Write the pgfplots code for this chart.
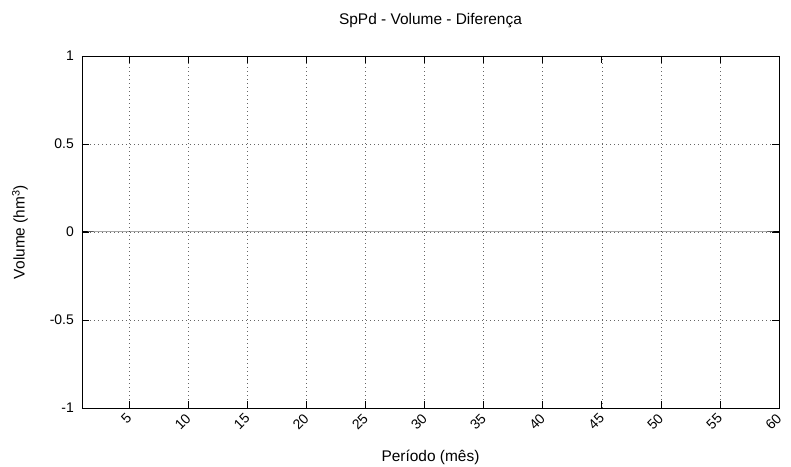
\documentclass[border=0pt]{standalone}
\usepackage{fontspec}
\setmainfont{Liberation Sans}
\usepackage{pgfplots}
\pgfplotsset{compat=1.18}

\begin{document}
\begin{tikzpicture}[x=1bp,y=1bp]
% fix the page size to the reference proportions
\path[use as bounding box] (-82bp,-59bp) rectangle (709bp,408bp);
\begin{axis}[
    name=ax,
    at={(0,0)}, anchor=south west,
    scale only axis,
    width=697bp, height=352bp,
    xmin=1, xmax=60,
    ymin=-1, ymax=1,
    xtick={5,10,...,60},
    ytick={-1,-0.5,0,0.5,1},
    tick align=inside,
    major tick length=7bp,
    grid=major,
    major grid style={black!60, dash pattern=on 0.8bp off 3.2bp, line width=0.5pt},
    axis line style={line width=0.7pt},
    tick style={line width=0.7pt, black},
    tick label style={font=\fontsize{14}{16}\selectfont},
    /pgf/number format/assume math mode=true,
    xticklabel style={yshift=-8bp, rotate=45, anchor=east, inner sep=0pt},
    yticklabel style={inner sep=0pt, xshift=-8bp},
    title={SpPd - Volume - Diferença},
    title style={font=\fontsize{15.5}{18}\selectfont, at={(axis description cs:0.5,1.085)}, anchor=center},
    xlabel={Período (mês)},
    xlabel style={font=\fontsize{15.5}{18}\selectfont, at={(axis description cs:0.5,-0.139)}, anchor=center},
    ylabel={Volume (hm\textsuperscript{3})},
    ylabel style={font=\fontsize{15.5}{18}\selectfont, at={(axis description cs:-0.089,0.5)}, anchor=center},
]
\addplot[black, line width=1bp, no marks] coordinates {
(1,0) (2,0) (3,0) (4,0) (5,0) (6,0) (7,0) (8,0) (9,0) (10,0)
(11,0) (12,0) (13,0) (14,0) (15,0) (16,0) (17,0) (18,0) (19,0) (20,0)
(21,0) (22,0) (23,0) (24,0) (25,0) (26,0) (27,0) (28,0) (29,0) (30,0)
(31,0) (32,0) (33,0) (34,0) (35,0) (36,0) (37,0) (38,0) (39,0) (40,0)
(41,0) (42,0) (43,0) (44,0) (45,0) (46,0) (47,0) (48,0) (49,0) (50,0)
(51,0) (52,0) (53,0) (54,0) (55,0) (56,0) (57,0) (58,0) (59,0) (60,0)
};
\end{axis}
\end{tikzpicture}
\end{document}
